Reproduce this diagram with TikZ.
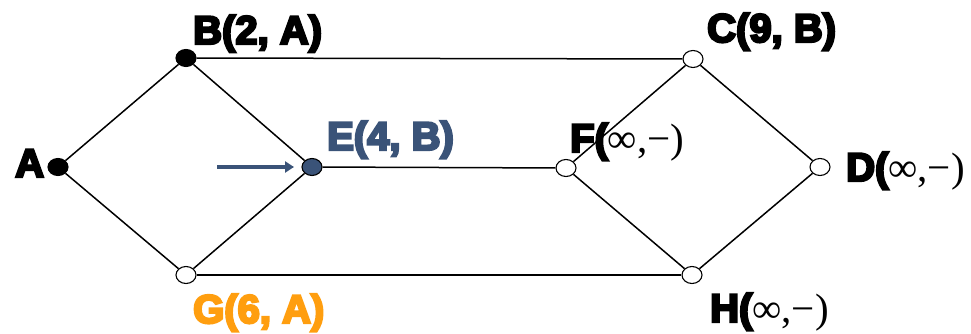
\documentclass[tikz,border=0pt]{standalone}
\usepackage{fontspec}
\setmainfont{Liberation Sans}
\newfontfamily\heavy{Liberation Sans Bold}[FakeBold=6]
\newfontfamily\serif{Liberation Serif}
\usetikzlibrary{arrows.meta,shapes.geometric}
\definecolor{eblue}{HTML}{3A5378}
\definecolor{gorange}{HTML}{FF9E0F}
\tikzset{
  vtx/.style={draw=black,line width=1.1pt,ellipse,minimum width=20pt,minimum height=17pt,inner sep=0pt,fill=white},
  edge/.style={line width=1.5pt,black},
  lab/.style={anchor=base west,inner sep=0pt,font=\heavy\fontsize{40}{44}\selectfont},
}
\newcommand{\inftail}{{\serif\fontsize{41}{44}\selectfont ∞,−)}}
\begin{document}
\begin{tikzpicture}[x=1pt,y=-1pt]
\useasboundingbox (0,0) rectangle (971,334);
\node[vtx,fill=black] (A) at (58,167) {};
\node[vtx,fill=black] (B) at (186,58) {};
\node[vtx,fill=eblue] (E) at (312,167) {};
\node[vtx] (G) at (186,275) {};
\node[vtx] (F) at (566,168) {};
\node[vtx] (C) at (693,59) {};
\node[vtx] (D) at (820,167) {};
\node[vtx] (H) at (692,275) {};
\draw[edge] (A) -- (B);
\draw[edge] (A) -- (G);
\draw[edge] (B) -- (E);
\draw[edge] (G) -- (E);
\draw[edge] (B) -- (C);
\draw[edge] (E) -- (F);
\draw[edge] (G) -- (H);
\draw[edge] (F) -- (C);
\draw[edge] (F) -- (H);
\draw[edge] (C) -- (D);
\draw[edge] (H) -- (D);
\coordinate (arrS) at (217,167);
\coordinate (arrE) at (294,167);
\draw[line width=4pt,eblue,-{Triangle[length=9pt,width=11pt]}] (arrS) -- (arrE);
\node[lab] (lA) at (15,177) {A};
\node[lab] (lB) at (193,44) {B(2, A)};
\node[lab,text=eblue] (lE) at (327,150) {E(4, B)};
\node[lab] (lF) at (570,152) {F(\inftail};
\node[lab] (lC) at (707,42) {C(9, B)};
\node[lab] (lD) at (846,181) {D(\inftail};
\node[lab,text=gorange] (lG) at (193,323) {G(6, A)};
\node[lab] (lH) at (710,322) {H(\inftail};
\end{tikzpicture}
\end{document}
